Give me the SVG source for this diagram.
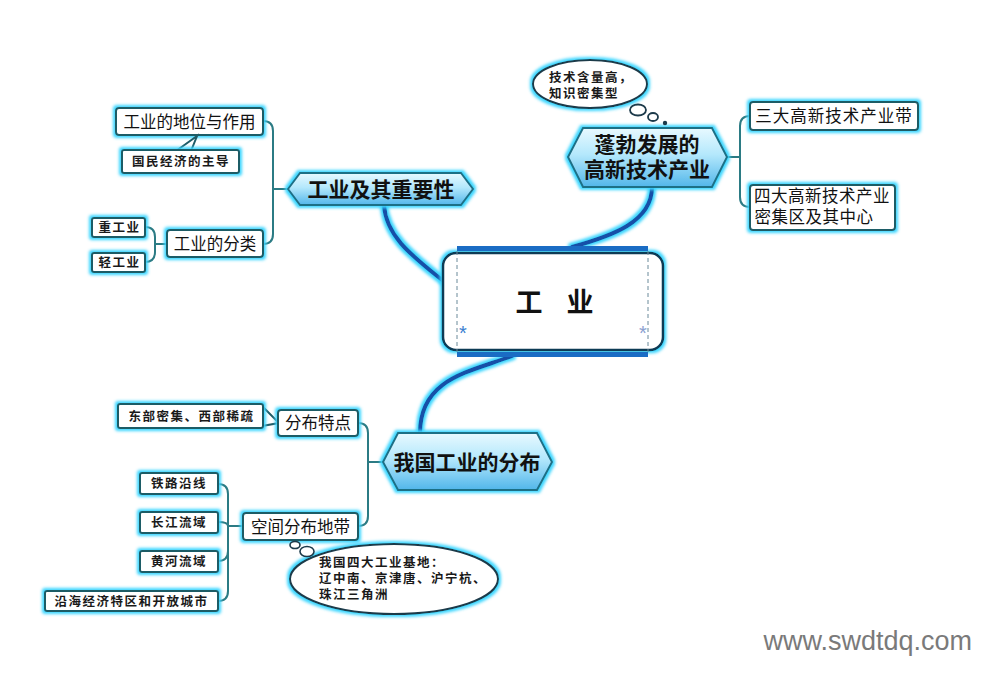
<svg xmlns="http://www.w3.org/2000/svg" width="1002" height="685" viewBox="0 0 1002 685">
<defs>
<filter id="glow" x="-20%" y="-30%" width="140%" height="160%">
<feMorphology in="SourceAlpha" operator="dilate" radius="1.5" result="d"/>
<feGaussianBlur in="d" stdDeviation="1.8" result="b"/>
<feFlood flood-color="#3cd6ff"/>
<feComposite in2="b" operator="in" result="g"/>
<feMerge><feMergeNode in="g"/><feMergeNode in="SourceGraphic"/></feMerge>
</filter>
<linearGradient id="hex" x1="0" y1="0" x2="0" y2="1">
<stop offset="0" stop-color="#e8f9ff"/>
<stop offset="0.45" stop-color="#b4e8fc"/>
<stop offset="1" stop-color="#52b6ea"/>
</linearGradient>
<style>
.box{fill:#fff;stroke:#1e5b66;stroke-width:2;filter:url(#glow)}
.hex{fill:url(#hex);stroke:#1f6f86;stroke-width:2;filter:url(#glow)}
.br{fill:none;stroke:#2b7b84;stroke-width:2}
.thick{fill:none;stroke:#1550a8;stroke-width:4;stroke-linecap:round;filter:url(#glow)}
.t{font-family:"Liberation Serif","Noto Sans CJK SC",serif;font-size:16.5px;fill:#111;text-anchor:middle}
.s{font-family:"Liberation Sans","Noto Sans CJK SC",sans-serif;font-size:12.5px;font-weight:bold;fill:#1a1a1a;letter-spacing:1.5px}
.sm{text-anchor:middle}
.h{font-family:"Liberation Sans","Noto Sans CJK SC",sans-serif;font-size:21px;font-weight:bold;fill:#111;text-anchor:middle}
.bub{fill:#fff;stroke:#1c3a4a;stroke-width:2;filter:url(#glow)}
</style>
</defs>
<rect width="1002" height="685" fill="#fff"/>

<g id="connectors">
<path class="thick" d="M384,205 C386,238 415,258 447,284"/>
<path class="thick" d="M652,187 C652,222 612,236 572,247"/>
<path class="thick" d="M512,356 C470,372 420,378 420,433"/>
<path class="br" d="M288,189 H273 M263,121 Q273,121 273,131 V234 Q273,244 263,244"/>
<path class="br" d="M145,227 Q155,227 155,237 V252 Q155,262 145,262 M155,244 H167"/>
<path class="br" d="M727,157 H740 M750,116 Q740,116 740,126 V197 Q740,207 750,207"/>
<path class="br" d="M383,462 H368 M358,423 Q368,423 368,433 V516 Q368,526 358,526"/>
<path class="br" d="M218,484 Q228,484 228,494 V591 Q228,601 218,601 M218,522 Q228,522 228,526 M228,526 H243 M218,561 Q228,561 228,551"/>
</g>

<g id="center">
<rect x="443" y="253" width="220" height="97" rx="13" fill="#fff" stroke="#0e3a55" stroke-width="2.5" filter="url(#glow)"/>
<rect x="457" y="246" width="191" height="5" fill="#1a6cc4"/>
<rect x="457" y="352" width="191" height="5" fill="#1a6cc4"/>
<line x1="457" y1="251" x2="457" y2="352" stroke="#6a8a9a" stroke-width="1" stroke-dasharray="4,3"/>
<line x1="648" y1="251" x2="648" y2="352" stroke="#6a8a9a" stroke-width="1" stroke-dasharray="4,3"/>
<text x="463" y="340" font-family="Liberation Sans,sans-serif" font-size="20" fill="#3a7fd0" text-anchor="middle">*</text>
<text x="643" y="340" font-family="Liberation Sans,sans-serif" font-size="20" fill="#8aa0d0" text-anchor="middle">*</text>
<text x="529" y="312" font-family="Noto Sans CJK SC,sans-serif" font-size="27" font-weight="bold" fill="#111" text-anchor="middle">工</text>
<text x="580" y="312" font-family="Noto Sans CJK SC,sans-serif" font-size="27" font-weight="bold" fill="#111" text-anchor="middle">业</text>
</g>

<g id="n-importance">
<polygon class="hex" points="288,189 300,173 461,173 473,189 461,205 300,205"/>
<text class="h" x="381" y="197" font-size="22">工业及其重要性</text>
</g>
<g id="n-status">
<rect class="box" x="116" y="108" width="147" height="27" rx="3"/>
<text class="t" x="189.5" y="127.5">工业的地位与作用</text>
</g>
<g id="n-leading">
<path d="M176,151 L197,136 L191,151" fill="#fff" stroke="#1e5b66" stroke-width="2"/>
<rect class="box" x="122" y="150" width="117" height="23" rx="2"/>
<text class="s sm" x="181" y="166">国民经济的主导</text>
</g>
<g id="n-classify">
<rect class="box" x="167" y="230" width="96" height="27" rx="3"/>
<text class="t" x="215" y="249.5">工业的分类</text>
</g>
<g id="n-heavy">
<rect class="box" x="92" y="218" width="53" height="19" rx="2"/>
<text class="s sm" x="119.5" y="232">重工业</text>
</g>
<g id="n-light">
<rect class="box" x="92" y="253" width="53" height="19" rx="2"/>
<text class="s sm" x="119.5" y="267">轻工业</text>
</g>

<g id="n-hightech">
<polygon class="hex" points="568,157 583,128 712,128 727,157 712,187 583,187"/>
<text class="h" x="647" y="152" font-size="20">蓬勃发展的</text>
<text class="h" x="647" y="177" font-size="20">高新技术产业</text>
</g>
<g id="n-bubble-top">
<ellipse class="bub" cx="590" cy="84" rx="57" ry="24"/>
<ellipse cx="638" cy="110" rx="8" ry="5.5" fill="#fff" stroke="#1c3a4a" stroke-width="1.8"/>
<ellipse cx="653" cy="117" rx="5" ry="4" fill="#fff" stroke="#1c3a4a" stroke-width="1.8"/>
<circle cx="665" cy="123" r="2.2" fill="#1c3a4a"/>
<text class="s" x="549" y="82" font-size="12">技术含量高，</text>
<text class="s" x="549" y="98" font-size="12">知识密集型</text>
</g>
<g id="n-belts">
<rect class="box" x="750" y="102" width="168" height="28" rx="3"/>
<text class="t" x="834" y="122" letter-spacing="1">三大高新技术产业带</text>
</g>
<g id="n-zones">
<rect class="box" x="750" y="185" width="145" height="45" rx="3"/>
<text class="t" x="822" y="202" letter-spacing="0.5">四大高新技术产业</text>
<text class="t" x="814" y="223" letter-spacing="0.5">密集区及其中心</text>
</g>

<g id="n-distribution">
<polygon class="hex" points="383,462 398,433 537,433 552,462 537,490 398,490"/>
<text class="h" x="467" y="470">我国工业的分布</text>
</g>
<g id="n-features">
<path d="M262,406 L279,423 L262,426" fill="#fff" stroke="#1e5b66" stroke-width="2"/>
<rect class="box" x="278" y="410" width="80" height="26" rx="3"/>
<text class="t" x="318" y="429">分布特点</text>
</g>
<g id="n-eastwest">
<rect class="box" x="118" y="404" width="145" height="24" rx="2"/>
<text class="s sm" x="191.5" y="420.5">东部密集、西部稀疏</text>
</g>
<g id="n-spatial">
<rect class="box" x="243" y="513" width="115" height="27" rx="3"/>
<text class="t" x="300.5" y="532.5">空间分布地带</text>
</g>
<g id="n-rail">
<rect class="box" x="140" y="473" width="78" height="21" rx="2"/>
<text class="s sm" x="179" y="488">铁路沿线</text>
</g>
<g id="n-yangtze">
<rect class="box" x="140" y="512" width="78" height="21" rx="2"/>
<text class="s sm" x="179" y="527">长江流域</text>
</g>
<g id="n-yellow">
<rect class="box" x="140" y="551" width="78" height="21" rx="2"/>
<text class="s sm" x="179" y="566">黄河流域</text>
</g>
<g id="n-coastal">
<rect class="box" x="45" y="591" width="173" height="20" rx="2"/>
<text class="s sm" x="131.5" y="605.5">沿海经济特区和开放城市</text>
</g>
<g id="n-bubble-bottom">
<ellipse class="bub" cx="394" cy="579" rx="104" ry="35"/>
<ellipse cx="295" cy="545" rx="5" ry="3.5" fill="#fff" stroke="#1c3a4a" stroke-width="1.6"/>
<ellipse cx="307" cy="551.5" rx="7" ry="5" fill="#fff" stroke="#1c3a4a" stroke-width="1.6"/>
<text class="s" x="319" y="567" font-size="12">我国四大工业基地：</text>
<text class="s" x="319" y="583" font-size="12">辽中南、京津唐、沪宁杭、</text>
<text class="s" x="319" y="599" font-size="12">珠江三角洲</text>
</g>

<text x="972" y="650" font-family="Liberation Sans,Arial,sans-serif" font-size="27" fill="#7a7a7a" text-anchor="end">www.swdtdq.com</text>
</svg>
